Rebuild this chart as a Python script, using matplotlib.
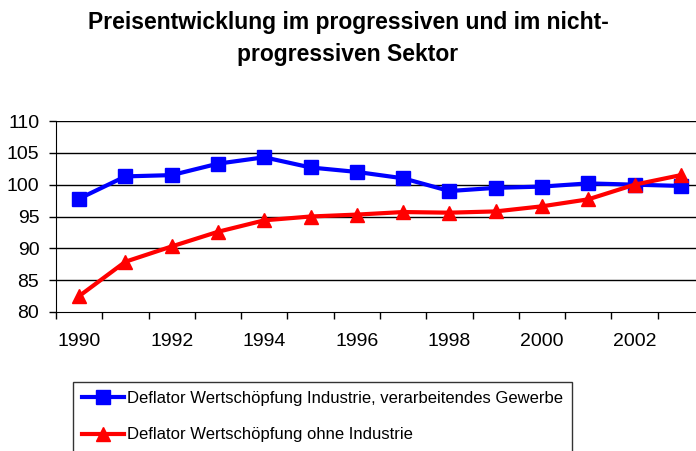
import matplotlib
matplotlib.use("Agg")
import matplotlib.pyplot as plt

years = list(range(1990, 2004))
industry = [97.8, 101.3, 101.5, 103.3, 104.3, 102.7, 102.0, 101.0, 99.0, 99.5, 99.7, 100.2, 100.0, 99.8]
non_industry = [82.5, 87.9, 90.3, 92.6, 94.4, 95.0, 95.3, 95.7, 95.6, 95.8, 96.6, 97.7, 100.0, 101.5]
xtick_labels = ["1990", "1992", "1994", "1996", "1998", "2000", "2002"]
yticks = [80, 85, 90, 95, 100, 105, 110]
title_lines = ["Preisentwicklung im progressiven und im nicht-", "progressiven Sektor"]
label_ind = "Deflator Wertschöpfung Industrie, verarbeitendes Gewerbe"
label_non = "Deflator Wertschöpfung ohne Industrie"

plt.rcParams['font.family'] = ['Liberation Sans', 'DejaVu Sans']

fig = plt.figure(figsize=(6.96, 4.51), dpi=100)
ax = fig.add_axes([56/696, 1-312/451, 648/696, 191/451])

x = list(range(len(years)))
l1, = ax.plot(x, industry, color='#0000FF', lw=3, marker='s', ms=10, label=label_ind, clip_on=False, zorder=3)
l2, = ax.plot(x, non_industry, color='#FF0000', lw=3, marker='^', ms=10, label=label_non, clip_on=False, zorder=4)

ax.set_xlim(-0.5, len(years) - 0.5)
ax.set_ylim(80, 110)
ax.set_yticks(yticks)
ax.set_yticklabels([str(v) for v in yticks], fontsize=14)
for y in yticks[1:]:
    ax.axhline(y, color='black', lw=1, zorder=1)

ax.set_xticks([i - 0.5 for i in range(len(years) + 1)])
ax.set_xticklabels([])
ax.set_xticks([years.index(int(s)) for s in xtick_labels], minor=True)
ax.set_xticklabels(xtick_labels, minor=True, fontsize=14)
ax.tick_params(axis='x', which='minor', length=0, pad=15)
ax.tick_params(axis='x', which='major', length=5, width=1, direction='out')
ax.tick_params(axis='y', length=5, width=1, direction='out', pad=7)

ax.spines['top'].set_visible(False)
ax.spines['right'].set_visible(False)

fig.text(348/696, 1-23/451, title_lines[0], ha='center', va='center',
         fontsize=16.5, fontweight='bold')
fig.text(348/696, 1-54/451, title_lines[1], ha='center', va='center',
         fontsize=16.5, fontweight='bold')

leg = fig.legend(handles=[l1, l2], loc='upper left', bbox_to_anchor=(73/696, 1-382/451),
                 fontsize=12, frameon=True, fancybox=False, edgecolor='black',
                 handlelength=2.5, handletextpad=0.2, borderpad=0.55, labelspacing=1.28,
                 borderaxespad=0)
leg.get_frame().set_linewidth(1)

fig.savefig("out.png", dpi=100)
